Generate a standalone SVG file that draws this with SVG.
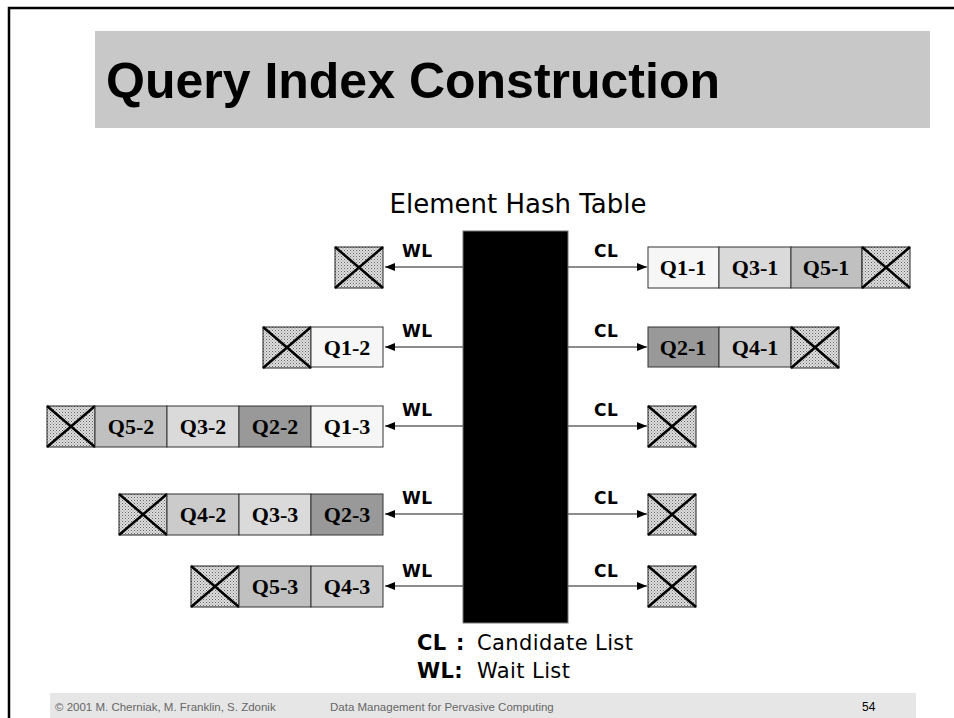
<svg xmlns="http://www.w3.org/2000/svg" width="954" height="718" viewBox="0 0 954 718">
<defs>
<pattern id="dots" width="3" height="3" patternUnits="userSpaceOnUse">
<rect width="3" height="3" fill="#dedede"/>
<rect x="0" y="0" width="1" height="1" fill="#666"/>
<rect x="1.5" y="1.5" width="1" height="1" fill="#888"/>
</pattern>
<marker id="ah" markerWidth="10" markerHeight="8" refX="10" refY="4" orient="auto" markerUnits="userSpaceOnUse">
<path d="M0,0 L10,4 L0,8 Z" fill="#000"/>
</marker>
<g id="nullbox">
<rect x="0" y="0" width="48" height="41" fill="url(#dots)" stroke="#222" stroke-width="1"/>
<path d="M0,0 L48,41 M48,0 L0,41" stroke="#000" stroke-width="2.5"/>
</g>
</defs>
<style>
.cell{stroke:#333;stroke-width:1}
.q{font-family:"Liberation Serif",serif;font-weight:bold;font-size:22px;text-anchor:middle;fill:#000}
.lbl{font-family:"DejaVu Sans",sans-serif;font-weight:bold;font-size:17px;letter-spacing:0.5px;fill:#000}
.conn{stroke:#666;stroke-width:1.5;fill:none}
.c1{fill:#f6f6f6}.c3{fill:#dadada}.c5{fill:#c0c0c0}.c2{fill:#999999}.c4{fill:#cbcbcb}
.leg{font-family:"DejaVu Sans",sans-serif;font-size:21px;letter-spacing:0.4px;fill:#000}
.ft{font-family:"Liberation Sans",sans-serif;font-size:11.5px;fill:#666}
</style>
<rect width="954" height="718" fill="#fff"/>
<rect x="9" y="8" width="960" height="720" fill="none" stroke="#000" stroke-width="2.5"/>
<g id="title">
<rect x="95" y="31" width="835" height="97" fill="#c8c8c8"/>
<text x="106" y="98" font-family="Liberation Sans, sans-serif" font-weight="bold" font-size="50" fill="#000">Query Index Construction</text>
</g>
<text x="518" y="213" font-family="DejaVu Sans, sans-serif" font-size="26" text-anchor="middle" fill="#000">Element Hash Table</text>
<g id="hashtable"><rect x="463" y="231" width="105" height="392" fill="#000" stroke="#777" stroke-width="1"/></g>
<g id="connectors">
<line class="conn" x1="463" y1="267" x2="385" y2="267" marker-end="url(#ah)"/>
<line class="conn" x1="463" y1="347" x2="385" y2="347" marker-end="url(#ah)"/>
<line class="conn" x1="463" y1="426" x2="385" y2="426" marker-end="url(#ah)"/>
<line class="conn" x1="463" y1="514" x2="385" y2="514" marker-end="url(#ah)"/>
<line class="conn" x1="463" y1="586" x2="385" y2="586" marker-end="url(#ah)"/>
<line class="conn" x1="568" y1="267" x2="647" y2="267" marker-end="url(#ah)"/>
<line class="conn" x1="568" y1="347" x2="647" y2="347" marker-end="url(#ah)"/>
<line class="conn" x1="568" y1="426" x2="647" y2="426" marker-end="url(#ah)"/>
<line class="conn" x1="568" y1="514" x2="647" y2="514" marker-end="url(#ah)"/>
<line class="conn" x1="568" y1="586" x2="647" y2="586" marker-end="url(#ah)"/>
</g>
<g id="labels">
<text class="lbl" x="402" y="257">WL</text><text class="lbl" x="594" y="257">CL</text>
<text class="lbl" x="402" y="337">WL</text><text class="lbl" x="594" y="337">CL</text>
<text class="lbl" x="402" y="416">WL</text><text class="lbl" x="594" y="416">CL</text>
<text class="lbl" x="402" y="504">WL</text><text class="lbl" x="594" y="504">CL</text>
<text class="lbl" x="402" y="577">WL</text><text class="lbl" x="594" y="577">CL</text>
</g>
<g id="wl1"><use href="#nullbox" x="335" y="247"/></g>
<g id="wl2">
<use href="#nullbox" x="263" y="327"/>
<rect class="cell c1" x="311" y="327" width="72" height="40"/><text class="q" x="347" y="355">Q1-2</text>
</g>
<g id="wl3">
<use href="#nullbox" x="47" y="406"/>
<rect class="cell c5" x="95" y="406" width="72" height="41"/><text class="q" x="131" y="434">Q5-2</text>
<rect class="cell c3" x="167" y="406" width="72" height="41"/><text class="q" x="203" y="434">Q3-2</text>
<rect class="cell c2" x="239" y="406" width="72" height="41"/><text class="q" x="275" y="434">Q2-2</text>
<rect class="cell c1" x="311" y="406" width="72" height="41"/><text class="q" x="347" y="434">Q1-3</text>
</g>
<g id="wl4">
<use href="#nullbox" x="119" y="494"/>
<rect class="cell c4" x="167" y="494" width="72" height="41"/><text class="q" x="203" y="522">Q4-2</text>
<rect class="cell c3" x="239" y="494" width="72" height="41"/><text class="q" x="275" y="522">Q3-3</text>
<rect class="cell c2" x="311" y="494" width="72" height="41"/><text class="q" x="347" y="522">Q2-3</text>
</g>
<g id="wl5">
<use href="#nullbox" x="191" y="566"/>
<rect class="cell c5" x="239" y="566" width="72" height="41"/><text class="q" x="275" y="594">Q5-3</text>
<rect class="cell c4" x="311" y="566" width="72" height="41"/><text class="q" x="347" y="594">Q4-3</text>
</g>
<g id="cl1">
<rect class="cell c1" x="648" y="247" width="71" height="41"/><text class="q" x="683" y="275">Q1-1</text>
<rect class="cell c3" x="719" y="247" width="72" height="41"/><text class="q" x="755" y="275">Q3-1</text>
<rect class="cell c5" x="791" y="247" width="71" height="41"/><text class="q" x="826" y="275">Q5-1</text>
<use href="#nullbox" x="862" y="247"/>
</g>
<g id="cl2">
<rect class="cell c2" x="648" y="327" width="71" height="40"/><text class="q" x="683" y="355">Q2-1</text>
<rect class="cell c4" x="719" y="327" width="72" height="40"/><text class="q" x="755" y="355">Q4-1</text>
<use href="#nullbox" x="791" y="327"/>
</g>
<g id="cl3"><use href="#nullbox" x="648" y="406"/></g>
<g id="cl4"><use href="#nullbox" x="648" y="494"/></g>
<g id="cl5"><use href="#nullbox" x="648" y="566"/></g>
<g id="legend">
<text class="leg" x="417" y="650" font-weight="bold">CL</text>
<text class="leg" x="456" y="650" font-weight="bold">:</text>
<text class="leg" x="477" y="650">Candidate List</text>
<text class="leg" x="417" y="678" font-weight="bold">WL:</text>
<text class="leg" x="477" y="678">Wait List</text>
</g>
<g id="footer">
<rect x="50" y="693" width="866" height="25" fill="#e6e6e6"/>
<text class="ft" x="55" y="711">© 2001 M. Cherniak, M. Franklin, S. Zdonik</text>
<text class="ft" x="330" y="711">Data Management for Pervasive Computing</text>
<text x="862" y="711" font-family="Liberation Sans, sans-serif" font-size="12" fill="#000">54</text>
</g>
</svg>
